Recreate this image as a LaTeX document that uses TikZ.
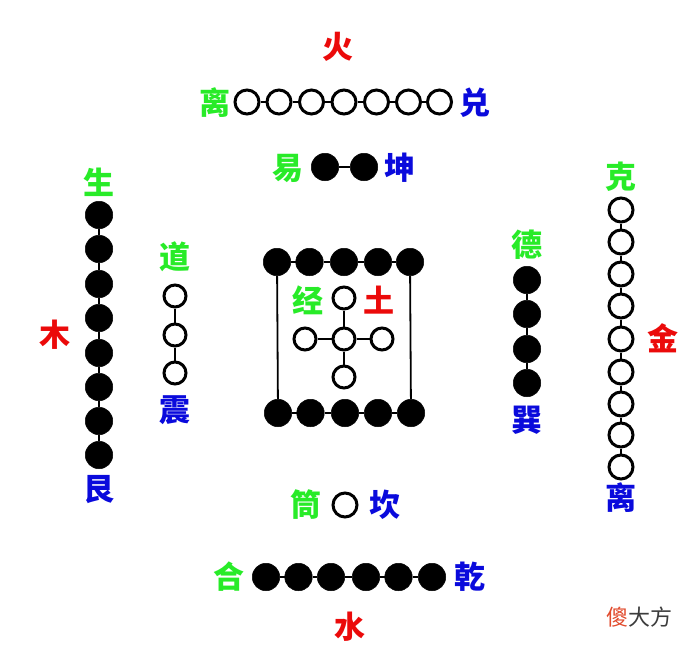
\documentclass[tikz,border=0pt]{standalone}
\usepackage{fontspec}
\newfontfamily\cjk{Noto Sans CJK SC}[BoldFont={Noto Sans CJK SC Black}]
\definecolor{wxgreen}{RGB}{40,235,40}
\definecolor{wxred}{RGB}{235,10,10}
\definecolor{wxblue}{RGB}{10,10,220}
\definecolor{markred}{RGB}{225,75,45}
\definecolor{markgray}{RGB}{60,60,60}
\begin{document}
\begin{tikzpicture}[x=1pt,y=-1pt,
  wb/.style={circle,draw=black,fill=white,line width=3pt,minimum size=24pt,inner sep=0pt},
  wbs/.style={wb,minimum size=22pt},
  bb/.style={circle,draw=black,fill=black,line width=0.5pt,minimum size=27.5pt,inner sep=0pt},
  zi/.style={inner sep=0pt,font=\cjk\bfseries\fontsize{31}{31}\selectfont},
  link/.style={line width=1.8pt}]
      \useasboundingbox (0,0) rectangle (692,654);

      % fire
      \node[zi,text=wxred] (huo) at (338,47){火};
      \node[zi,text=wxgreen] (li1) at (215,103){离};
      \node[wb] (t1) at (247,102){};
      \node[wb] (t2) at (279,102){};
      \node[wb] (t3) at (311.5,102){};
      \node[wb] (t4) at (344,102){};
      \node[wb] (t5) at (376.5,102){};
      \node[wb] (t6) at (408.5,102){};
      \node[wb] (t7) at (439.5,102){};
      \node[zi,text=wxblue] (dui) at (475,103){兑};
      \node[zi,text=wxgreen] (yi) at (288,168){易};
      \node[bb] (y1) at (325,167){};
      \node[bb] (y2) at (364,167){};
      \node[zi,text=wxblue] (kun) at (400,168){坤};

      % wood
      \node[zi,text=wxgreen] (sheng) at (99,182){生};
      \node[bb] (m1) at (99,215){};
      \node[bb] (m2) at (99,249){};
      \node[bb] (m3) at (99,284){};
      \node[bb] (m4) at (99,318){};
      \node[bb] (m5) at (99,353){};
      \node[bb] (m6) at (99,387){};
      \node[bb] (m7) at (99,421){};
      \node[bb] (m8) at (99,455){};
      \node[zi,text=wxblue] (gen) at (99,490){艮};
      \node[zi,text=wxred] (mu) at (55,335){木};
      \node[zi,text=wxgreen] (dao) at (175,257){道};
      \node[wbs] (d1) at (175,296){};
      \node[wbs] (d2) at (175,335){};
      \node[wbs] (d3) at (175,373){};
      \node[zi,text=wxblue] (zhen) at (175,410){震};

      % earth
      \node[bb] (s1) at (277,262){};
      \node[bb] (s2) at (309.5,262){};
      \node[bb] (s3) at (344,262){};
      \node[bb] (s4) at (378,262){};
      \node[bb] (s5) at (410,262){};
      \node[bb] (u1) at (278,413){};
      \node[bb] (u2) at (310.5,413){};
      \node[bb] (u3) at (345,413){};
      \node[bb] (u4) at (378,413){};
      \node[bb] (u5) at (411,413){};
      \node[wbs] (c0) at (344,339){};
      \node[wbs] (cn) at (344,298){};
      \node[wbs] (cw) at (305,339){};
      \node[wbs] (ce) at (382,339){};
      \node[wbs] (cs) at (344,377){};
      \node[zi,text=wxgreen] (jing) at (308,300){经};
      \node[zi,text=wxred] (tu) at (379,300){土};

      % metal
      \node[zi,text=wxgreen] (de) at (527,245){德};
      \node[bb] (x1) at (527,280){};
      \node[bb] (x2) at (527,314){};
      \node[bb] (x3) at (527,349){};
      \node[bb] (x4) at (527,383){};
      \node[zi,text=wxblue] (xun) at (527,420){巽};
      \node[zi,text=wxgreen] (ke) at (621,177){克};
      \node[wb] (j1) at (621,210){};
      \node[wb] (j2) at (621,242){};
      \node[wb] (j3) at (621,274){};
      \node[wb] (j4) at (621,306){};
      \node[wb] (j5) at (621,339){};
      \node[wb] (j6) at (621,372){};
      \node[wb] (j7) at (621,404){};
      \node[wb] (j8) at (621,435){};
      \node[wb] (j9) at (621,467){};
      \node[zi,text=wxblue] (li2) at (621,498){离};
      \node[zi,text=wxred] (jin) at (663,338){金};

      % water
      \node[zi,text=wxgreen] (tong) at (306,505){筒};
      \node[wb] (k1) at (345,505){};
      \node[zi,text=wxblue] (kan) at (385,505){坎};
      \node[zi,text=wxgreen] (he) at (229,577){合};
      \node[bb] (q1) at (266,577){};
      \node[bb] (q2) at (298.5,577){};
      \node[bb] (q3) at (331,577){};
      \node[bb] (q4) at (366,577){};
      \node[bb] (q5) at (398.5,577){};
      \node[bb] (q6) at (432,577){};
      \node[zi,text=wxblue] (qian) at (470,577){乾};
      \node[zi,text=wxred] (shui) at (350,627){水};

      \node[inner sep=0pt,font=\cjk\fontsize{22}{22}\selectfont,text=markgray] (mark) at (639,617){\textcolor{markred}{傻}大方};

      \draw[link] (t1) -- (t2);
      \draw[link] (t2) -- (t3);
      \draw[link] (t3) -- (t4);
      \draw[link] (t4) -- (t5);
      \draw[link] (t5) -- (t6);
      \draw[link] (t6) -- (t7);
      \draw[link] (y1) -- (y2);
      \draw[link] (m1) -- (m2);
      \draw[link] (m2) -- (m3);
      \draw[link] (m3) -- (m4);
      \draw[link] (m4) -- (m5);
      \draw[link] (m5) -- (m6);
      \draw[link] (m6) -- (m7);
      \draw[link] (m7) -- (m8);
      \draw[link] (d1) -- (d2);
      \draw[link] (d2) -- (d3);
      \draw[link] (s1) -- (s2);
      \draw[link] (s2) -- (s3);
      \draw[link] (s3) -- (s4);
      \draw[link] (s4) -- (s5);
      \draw[link] (u1) -- (u2);
      \draw[link] (u2) -- (u3);
      \draw[link] (u3) -- (u4);
      \draw[link] (u4) -- (u5);
      \draw[link] (s1) -- (u1);
      \draw[link] (s5) -- (u5);
      \draw[link] (c0) -- (cn);
      \draw[link] (c0) -- (cw);
      \draw[link] (c0) -- (ce);
      \draw[link] (c0) -- (cs);
      \draw[link] (x1) -- (x2);
      \draw[link] (x2) -- (x3);
      \draw[link] (x3) -- (x4);
      \draw[link] (j1) -- (j2);
      \draw[link] (j2) -- (j3);
      \draw[link] (j3) -- (j4);
      \draw[link] (j4) -- (j5);
      \draw[link] (j5) -- (j6);
      \draw[link] (j6) -- (j7);
      \draw[link] (j7) -- (j8);
      \draw[link] (j8) -- (j9);
      \draw[link] (q1) -- (q2);
      \draw[link] (q2) -- (q3);
      \draw[link] (q3) -- (q4);
      \draw[link] (q4) -- (q5);
      \draw[link] (q5) -- (q6);
\end{tikzpicture}
\end{document}
